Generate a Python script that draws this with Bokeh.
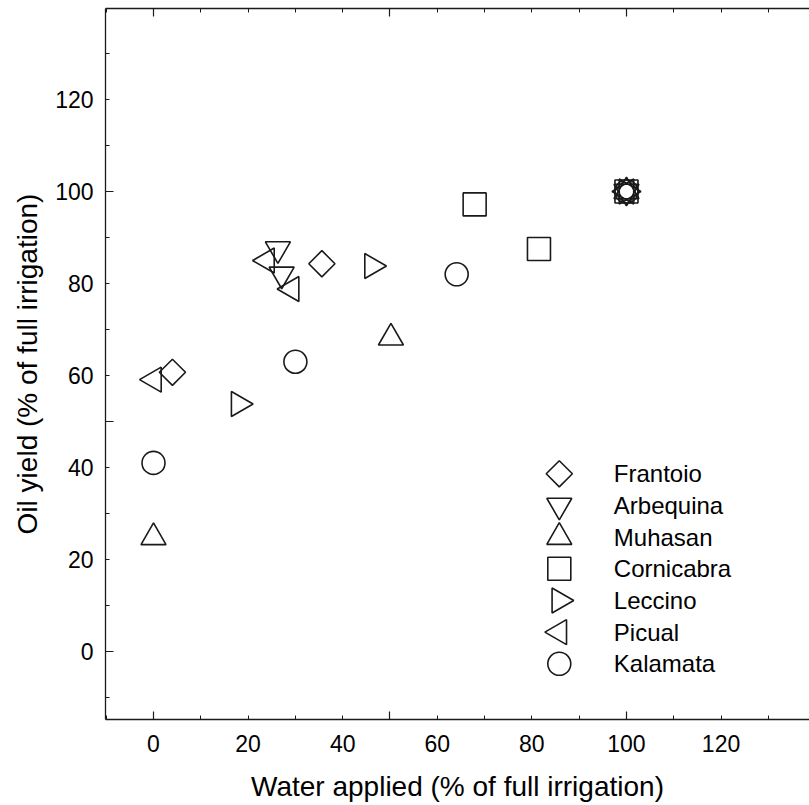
import numpy as np
from bokeh.plotting import figure
from bokeh.models import Range1d, LinearAxis, FixedTicker, ColumnDataSource
from bokeh.core.properties import value
from bokeh.embed import file_html
from bokeh.resources import INLINE

# ---- data ----
cultivars = ["Frantoio", "Arbequina", "Muhasan", "Cornicabra", "Leccino", "Picual", "Kalamata"]

frantoio_x = [4.0, 35.6, 100.0]
frantoio_y = [60.7, 84.3, 100.0]
arbequina_x = [26.3, 27.1, 100.0]
arbequina_y = [87.5, 82.0, 100.0]
muhasan_x = [0.0, 50.2, 100.0]
muhasan_y = [24.8, 68.2, 100.0]
cornicabra_x = [67.9, 81.5, 100.0]
cornicabra_y = [97.2, 87.5, 100.0]
leccino_x = [18.0, 46.2, 100.0]
leccino_y = [53.8, 83.8, 100.0]
picual_x = [0.1, 24.0, 29.2, 100.0]
picual_y = [59.1, 85.0, 78.8, 100.0]
kalamata_x = [0.0, 30.0, 64.1, 100.0]
kalamata_y = [41.0, 63.0, 82.0, 100.0]

x_tick_labels = [0, 20, 40, 60, 80, 100, 120]
y_tick_labels = [0, 20, 40, 60, 80, 100, 120]
long_ticks = [0, 50, 100]
short_ticks = list(range(-10, 141, 10))

FONT = "Liberation Sans"
INK = "#1a1a1a"

W, H = 809, 805
BL, BT, BB = 105, 8, 86
FW, FH = W - BL, H - BT - BB

p = figure(width=W, height=H,
           x_range=Range1d(-10.15, 138.7), y_range=Range1d(-14.8, 139.8),
           x_axis_type=None, y_axis_type=None,
           output_backend="svg", toolbar_location=None,
           min_border_left=BL, min_border_right=0, min_border_top=BT, min_border_bottom=BB)
p.outline_line_color = None
p.background_fill_color = "white"
p.border_fill_color = "white"
# pixel-like ranges for the legend block
p.extra_x_ranges = {"lx": Range1d(0, FW)}
p.extra_y_ranges = {"ly": Range1d(0, FH)}


def tick_axis():
    return LinearAxis(ticker=FixedTicker(ticks=long_ticks, minor_ticks=short_ticks),
                      major_tick_in=8, major_tick_out=0, minor_tick_in=4, minor_tick_out=0,
                      major_label_overrides={t: "" for t in long_ticks},
                      major_label_text_font_size="0px", major_label_standoff=0,
                      axis_line_color=INK, axis_line_width=1.3,
                      major_tick_line_color=INK, minor_tick_line_color=INK,
                      major_tick_line_width=1.2, minor_tick_line_width=1.0)


def label_axis(ticks, title, standoff, title_standoff):
    return LinearAxis(ticker=FixedTicker(ticks=ticks, minor_ticks=[]),
                      major_tick_in=0, major_tick_out=0, minor_tick_in=0, minor_tick_out=0,
                      axis_line_color=None,
                      major_label_text_font=FONT, major_label_text_font_size="23px",
                      major_label_text_color="black", major_label_standoff=standoff,
                      axis_label=title, axis_label_text_font=FONT,
                      axis_label_text_font_size="28px", axis_label_text_font_style="normal",
                      axis_label_text_color="black", axis_label_standoff=title_standoff)


p.add_layout(tick_axis(), "left")
p.add_layout(label_axis(y_tick_labels, "Oil yield (% of full irrigation)", 12, 9), "left")
p.add_layout(tick_axis(), "below")
p.add_layout(label_axis(x_tick_labels, "Water applied (% of full irrigation)", 15, 16), "below")
p.add_layout(tick_axis(), "above")

styles = [
    ("square", np.pi / 4, 18.5),
    ("inverted_triangle", 0.0, 25),
    ("triangle", 0.0, 25),
    ("square", 0.0, 23),
    ("triangle", -np.pi / 2, 25),
    ("triangle", np.pi / 2, 25),
    ("circle", 0.0, 23),
]
series_x = [frantoio_x, arbequina_x, muhasan_x, cornicabra_x, leccino_x, picual_x, kalamata_x]
series_y = [frantoio_y, arbequina_y, muhasan_y, cornicabra_y, leccino_y, picual_y, kalamata_y]

# legend layout (pixels inside the frame)
LEG_GX = 453.8
LEG_TX = 508.3
LEG_Y0 = 245.7
LEG_STEP = 31.67

for i, (name, xs, ys, (marker, ang, size)) in enumerate(zip(cultivars, series_x, series_y, styles)):
    src = ColumnDataSource(dict(x=xs, y=ys))
    p.scatter("x", "y", source=src, marker=marker, angle=ang, size=size,
              fill_alpha=0, line_color=INK, line_width=1.6)
    ly = LEG_Y0 - i * LEG_STEP
    p.scatter(x=[LEG_GX], y=[ly], x_range_name="lx", y_range_name="ly",
              marker=marker, angle=ang, size=size,
              fill_alpha=0, line_color=INK, line_width=1.6)

leg_src = ColumnDataSource(dict(
    x=[LEG_TX] * len(cultivars),
    y=[LEG_Y0 - i * LEG_STEP for i in range(len(cultivars))],
    t=cultivars))
p.text("x", "y", text="t", source=leg_src, x_range_name="lx", y_range_name="ly",
       text_font=value(FONT), text_font_size="24px", text_color="black",
       text_baseline="middle", text_align="left")

open("out.html", "w").write(file_html(p, INLINE))
